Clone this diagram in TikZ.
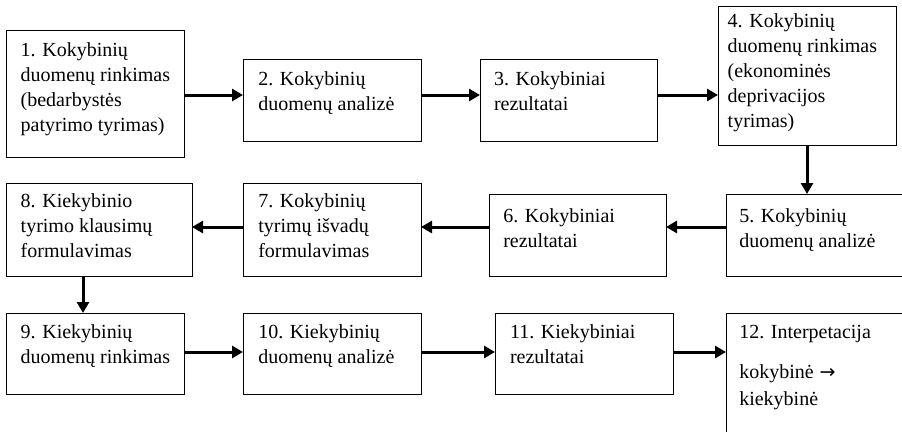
\documentclass[tikz,border=0pt]{standalone}
\usepackage{fontspec}
\setmainfont{Liberation Serif}
\newfontfamily\arrowfont{DejaVu Sans}
\usetikzlibrary{arrows.meta}
% forces a fixed height on the first line, so a text block can be hung from its top
\newcommand{\boxstrut}{\rule{0pt}{16pt}}
\begin{document}
\begin{tikzpicture}[x=1pt,y=-1pt,
  stepbox/.style={draw, line width=1pt, anchor=north west, inner sep=0pt, outer sep=0pt},
  boxtext/.style={anchor=north west, inner sep=0pt, outer sep=0pt, align=left,
    font=\fontsize{20}{25}\selectfont},
  flow/.style={line width=3pt, -{Triangle[length=11pt,width=12pt]}}]
\useasboundingbox (0,0) rectangle (902,431);
\clip (0,0) rectangle (902,431);

% ---- row 1: qualitative stage ----
\node[stepbox, minimum width=178pt, minimum height=127pt] (b1) at (6,30) {};
\node[stepbox, minimum width=178pt, minimum height=82pt]  (b2) at (243,59) {};
\node[stepbox, minimum width=177pt, minimum height=82pt]  (b3) at (480,59) {};
\node[stepbox, minimum width=178pt, minimum height=139pt] (b4) at (718,6) {};

% ---- row 2: back towards the left ----
\node[stepbox, minimum width=194pt, minimum height=82pt]  (b5) at (726,194) {};
\node[stepbox, minimum width=177pt, minimum height=82pt]  (b6) at (489,194) {};
\node[stepbox, minimum width=178pt, minimum height=93pt]  (b7) at (243,183) {};
\node[stepbox, minimum width=186pt, minimum height=93pt]  (b8) at (6,183) {};

% ---- row 3: quantitative stage ----
\node[stepbox, minimum width=178pt, minimum height=81pt]  (b9)  at (6,313) {};
\node[stepbox, minimum width=178pt, minimum height=81pt]  (b10) at (243,313) {};
\node[stepbox, minimum width=178pt, minimum height=81pt]  (b11) at (495,313) {};
\node[stepbox, minimum width=194pt, minimum height=137pt] (b12) at (726,313) {};

% ---- texts ----
\node[boxtext] (t1) at (20.7,40) {\boxstrut 1. Kokybinių\\duomenų rinkimas\\(bedarbystės\\patyrimo tyrimas)};
\node[boxtext] (t2) at (258.3,69) {\boxstrut 2. Kokybinių\\duomenų analizė};
\node[boxtext] (t3) at (494,69) {\boxstrut 3. Kokybiniai\\rezultatai};
\node[boxtext] (t4) at (727.7,11) {\boxstrut 4. Kokybinių\\duomenų rinkimas\\(ekonominės\\deprivacijos\\tyrimas)};
\node[boxtext] (t5) at (739.3,206) {\boxstrut 5. Kokybinių\\duomenų analizė};
\node[boxtext] (t6) at (503.3,206) {\boxstrut 6. Kokybiniai\\rezultatai};
\node[boxtext] (t7) at (258.3,191) {\boxstrut 7. Kokybinių\\tyrimų išvadų\\formulavimas};
\node[boxtext] (t8) at (20.7,191) {\boxstrut 8. Kiekybinio\\tyrimo klausimų\\formulavimas};
\node[boxtext] (t9) at (20.7,322) {\boxstrut 9. Kiekybinių\\duomenų rinkimas};
\node[boxtext] (t10) at (258.3,322) {\boxstrut 10. Kiekybinių\\duomenų analizė};
\node[boxtext] (t11) at (510,322) {\boxstrut 11. Kiekybiniai\\rezultatai};
\node[boxtext] (t12) at (739.3,322) {\boxstrut 12. Interpetacija\\[15pt]kokybinė\hspace{6pt}{\arrowfont\fontsize{19}{25}\selectfont →}\\[2pt]kiekybinė};

% ---- connector levels ----
\coordinate (r1) at (0,95);
\coordinate (r2) at (0,227);
\coordinate (r3) at (0,352);
\coordinate (c89) at (83,0);

% ---- connectors ----
\draw[flow] (b1.east |- r1) -- (b2.west |- r1);
\draw[flow] (b2.east |- r1) -- (b3.west |- r1);
\draw[flow] (b3.east |- r1) -- (b4.west |- r1);
\draw[flow] (b4.south) -- (b4.south |- b5.north);
\draw[flow] (b5.west |- r2) -- (b6.east |- r2);
\draw[flow] (b6.west |- r2) -- (b7.east |- r2);
\draw[flow] (b7.west |- r2) -- (b8.east |- r2);
\draw[flow] (b8.south -| c89) -- (b9.north -| c89);
\draw[flow] (b9.east |- r3) -- (b10.west |- r3);
\draw[flow] (b10.east |- r3) -- (b11.west |- r3);
\draw[flow] (b11.east |- r3) -- (b12.west |- r3);
\end{tikzpicture}
\end{document}
